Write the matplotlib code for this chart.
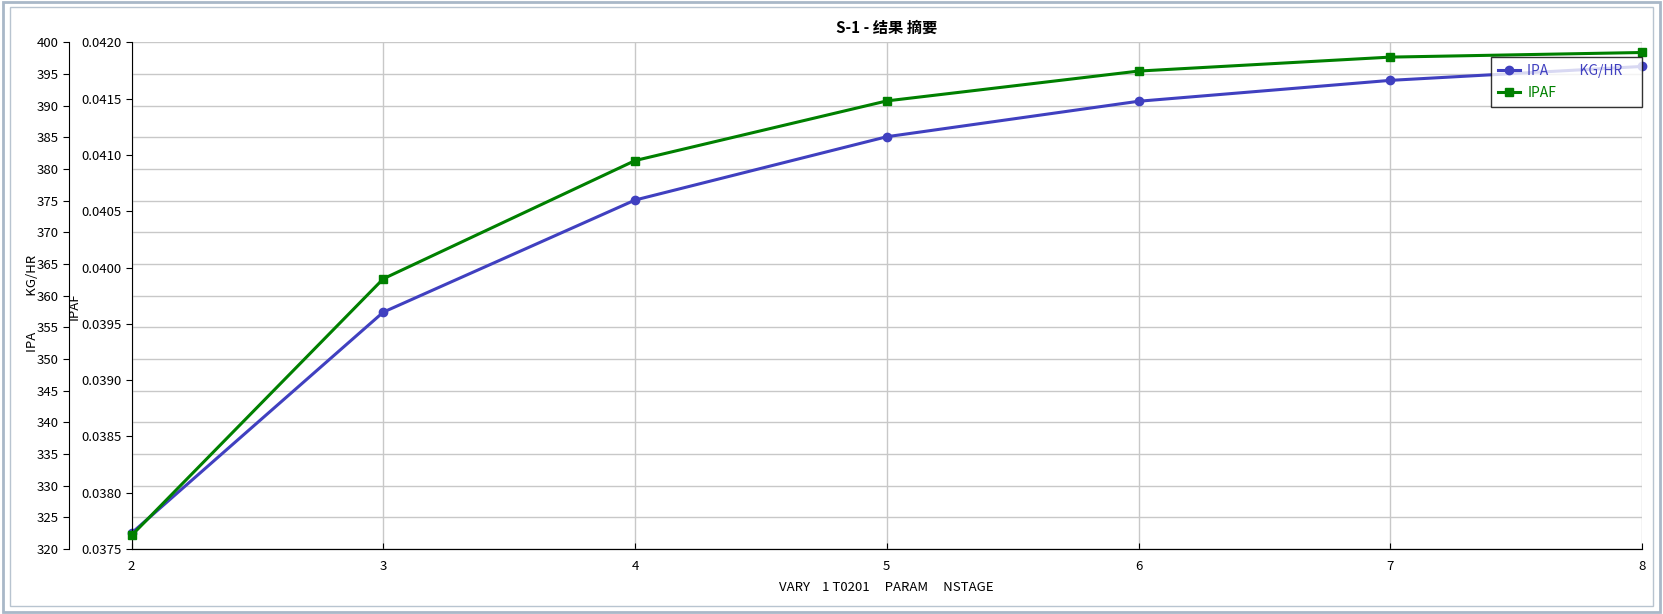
import matplotlib
matplotlib.use("Agg")
import matplotlib.pyplot as plt
from matplotlib.patches import Rectangle

plt.rcParams['font.family'] = ['Noto Sans CJK SC', 'DejaVu Sans']

# stage count and results
nstage = [2, 3, 4, 5, 6, 7, 8]
ipa = [322.5, 357.4, 375.1, 385.1, 390.7, 394.0, 396.2]          # KG/HR
ipaf = [0.03762, 0.03990, 0.04095, 0.04148, 0.041745, 0.041869, 0.04191]

ipa_ticks = list(range(320, 401, 5))
ipaf_ticks = [0.0375, 0.0380, 0.0385, 0.0390, 0.0395, 0.0400, 0.0405, 0.0410, 0.0415, 0.0420]

BLUE = "#4040c0"
GREEN = "#008000"
GRID = "#c8c8c8"
FS = 9.5

fig = plt.figure(figsize=(16.63, 6.14), dpi=100)
fig.patch.set_facecolor("white")

# window frame
fig.patches.append(Rectangle((0.002, 0.003), 0.996, 0.994, transform=fig.transFigure,
                             fill=False, edgecolor="#a9b8c8", lw=2))
fig.patches.append(Rectangle((0.006, 0.013), 0.988, 0.975, transform=fig.transFigure,
                             fill=False, edgecolor="#b8c4d0", lw=1))

ax = fig.add_axes([0.0791, 0.1059, 0.9083, 0.8251])
ax.plot(nstage, ipa, color=BLUE, lw=2.2, marker="o", ms=6, clip_on=False, zorder=3)
ax.set_xlim(2, 8)
ax.set_ylim(320, 400)
ax.set_xticks(nstage)
ax.set_yticks(ipa_ticks)
ax.grid(True, color=GRID, lw=1)
ax.set_axisbelow(True)
ax.spines["left"].set_position(("outward", 45))
ax.spines["top"].set_visible(False)
ax.spines["right"].set_visible(False)
ax.tick_params(axis="y", labelsize=FS, length=4, direction="out")
ax.tick_params(axis="x", labelsize=FS, length=4, direction="in", pad=8)
ax.set_ylabel("IPA            KG/HR", fontsize=FS)
ax.yaxis.set_label_coords(-0.061, 0.485)
ax.set_xlabel("VARY    1 T0201     PARAM     NSTAGE", fontsize=FS)
ax.xaxis.set_label_coords(0.5, -0.064)
ax.set_title("S-1 - 结果 摘要", fontsize=11, fontweight="bold", pad=7)

ax2 = ax.twinx()
ax2.plot(nstage, ipaf, color=GREEN, lw=2.2, marker="s", ms=6, clip_on=False, zorder=4)
ax2.set_ylim(0.0375, 0.0420)
ax2.set_yticks(ipaf_ticks)
ax2.set_yticklabels([f"{t:.4f}" for t in ipaf_ticks])
ax2.yaxis.tick_left()
ax2.yaxis.set_label_position("left")
ax2.spines["left"].set_visible(True)
ax2.spines["right"].set_visible(False)
ax2.spines["top"].set_visible(False)
ax2.tick_params(axis="y", labelsize=FS, length=4, direction="out")
ax2.set_ylabel("IPAF", fontsize=FS)
ax2.yaxis.set_label_coords(-0.034, 0.48)

h1, = ax.plot([], [], color=BLUE, lw=2.2, marker="o", ms=6)
h2, = ax.plot([], [], color=GREEN, lw=2.2, marker="s", ms=6)
leg = ax2.legend([h1, h2], ["IPA          KG/HR    ", "IPAF"], loc="upper right",
                 bbox_to_anchor=(1.0, 0.971), fontsize=10, frameon=True, fancybox=False,
                 borderpad=0.5, handlelength=1.6, handletextpad=0.5, labelspacing=0.55,
                 borderaxespad=0)
leg.get_frame().set_edgecolor("black")
leg.get_frame().set_linewidth(1)
leg.get_texts()[0].set_color(BLUE)
leg.get_texts()[1].set_color(GREEN)

fig.savefig("out.png", dpi=100)
